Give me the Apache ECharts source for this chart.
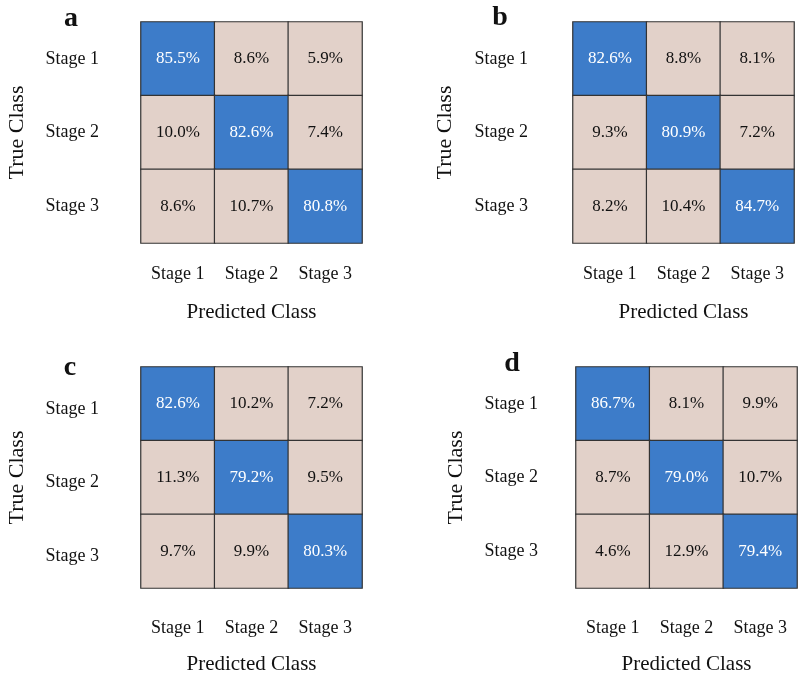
<!DOCTYPE html>
<html>
<head>
<meta charset="utf-8">
<script src="https://cdn.jsdelivr.net/npm/echarts@6/dist/echarts.min.js"></script>
<style>
  html, body { margin: 0; padding: 0; background: #fff; }
  #chart { width: 800px; height: 673px; }
</style>
</head>
<body>
<div id="chart"></div>
<script>
// class names on both axes
var stages = ['Stage 1', 'Stage 2', 'Stage 3'];
// rows = true class, columns = predicted class (percent)
var matrixA = [[85.5, 8.6, 5.9], [10.0, 82.6, 7.4], [8.6, 10.7, 80.8]];
var matrixB = [[82.6, 8.8, 8.1], [9.3, 80.9, 7.2], [8.2, 10.4, 84.7]];
var matrixC = [[82.6, 10.2, 7.2], [11.3, 79.2, 9.5], [9.7, 9.9, 80.3]];
var matrixD = [[86.7, 8.1, 9.9], [8.7, 79.0, 10.7], [4.6, 12.9, 79.4]];
var panelLetters = ['a', 'b', 'c', 'd'];

var FONT = '"Liberation Serif", "Times New Roman", serif';
var BLUE = '#3d7cc9';
var BEIGE = '#e2d1c9';

var myChart = echarts.init(document.getElementById('chart'));

// layout of the four panels (px); yAlign/yLH nudge the row labels a little
var panels = [
  { m: matrixA, left: 141, top: 22, yLab: 42, yAlign: 'middle', yLH: 22, xLab: 22, xName: 59, yName: 113, lx: 71, ly: 19 },
  { m: matrixB, left: 573, top: 22, yLab: 45, yAlign: 'middle', yLH: 22, xLab: 22, xName: 59, yName: 117, lx: 500, ly: 18 },
  { m: matrixC, left: 141, top: 367, yLab: 42, yAlign: 'top', yLH: 10, xLab: 31, xName: 66, yName: 113, lx: 70, ly: 368 },
  { m: matrixD, left: 576, top: 367, yLab: 38, yAlign: 'middle', yLH: 22, xLab: 31, xName: 66, yName: 109, lx: 512, ly: 364 }
];

var grids = [], xAxes = [], yAxes = [], series = [], graphics = [];

panels.forEach(function (p, k) {
  grids.push({ left: p.left, top: p.top, width: 221, height: 221, outerBoundsMode: 'none', containLabel: false });
  xAxes.push({
    type: 'category', gridIndex: k, data: stages,
    axisLine: { show: false }, axisTick: { show: false }, splitLine: { show: false },
    axisLabel: { color: '#111', fontFamily: FONT, fontSize: 18, margin: p.xLab },
    name: 'Predicted Class', nameLocation: 'middle', nameGap: p.xName,
    nameTextStyle: { color: '#111', fontFamily: FONT, fontSize: 21 }
  });
  yAxes.push({
    type: 'category', gridIndex: k, data: stages, inverse: true,
    axisLine: { show: false }, axisTick: { show: false }, splitLine: { show: false },
    axisLabel: {
      color: '#111', fontFamily: FONT, fontSize: 18, margin: p.yLab,
      verticalAlign: p.yAlign, lineHeight: p.yLH
    },
    name: 'True Class', nameLocation: 'middle', nameGap: p.yName,
    nameTextStyle: { color: '#111', fontFamily: FONT, fontSize: 22 }
  });
  var data = [];
  for (var r = 0; r < 3; r++) {
    for (var c = 0; c < 3; c++) {
      data.push({
        value: [c, r, p.m[r][c]],
        label: { color: r === c ? '#fff' : '#111' }
      });
    }
  }
  series.push({
    type: 'heatmap', xAxisIndex: k, yAxisIndex: k, data: data,
    itemStyle: { borderColor: '#333', borderWidth: 1.2 },
    label: {
      show: true, fontFamily: FONT, fontSize: 17,
      formatter: function (params) { return params.value[2].toFixed(1) + '%'; }
    },
    emphasis: { disabled: true }
  });
  graphics.push({
    type: 'text', x: p.lx, y: p.ly,
    style: {
      text: panelLetters[k], fill: '#111', font: 'bold 28px ' + FONT,
      textAlign: 'center', textVerticalAlign: 'middle'
    }
  });
});

var option = {
  backgroundColor: '#fff',
  animation: false,
  grid: grids,
  xAxis: xAxes,
  yAxis: yAxes,
  visualMap: {
    type: 'piecewise', show: false, dimension: 2,
    pieces: [{ gte: 50, color: BLUE }, { lt: 50, color: BEIGE }]
  },
  graphic: graphics,
  series: series
};

myChart.setOption(option);
</script>
</body>
</html>
